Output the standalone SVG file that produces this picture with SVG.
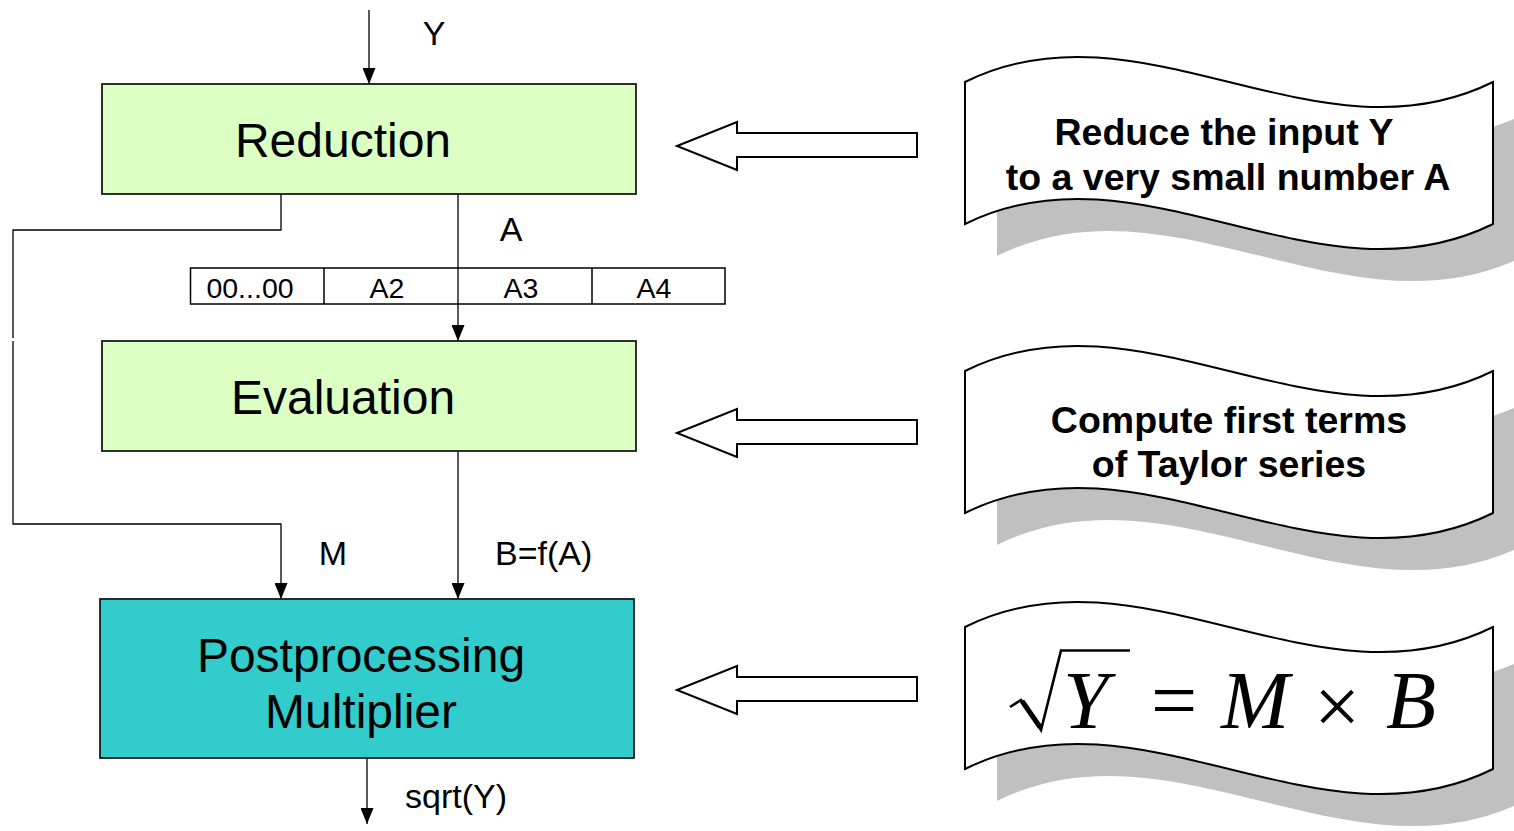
<svg xmlns="http://www.w3.org/2000/svg" width="1514" height="831" viewBox="0 0 1514 831">
  <defs>
    <marker id="head" viewBox="0 0 16 13" refX="16" refY="6.5" markerWidth="16" markerHeight="13" markerUnits="userSpaceOnUse" orient="auto">
      <path d="M0,0 L16,6.5 L0,13 Z" fill="#000"/>
    </marker>
    <!-- hollow block arrow pointing left -->
    <path id="blockArrow" d="M677,146 L737,122 L737,133 L917,133 L917,157 L737,157 L737,170 Z"/>
    <!-- wavy banner outline -->
    <path id="wave" d="M965,82 C1141,-5 1317,169 1493,82 L1493,224 C1317,311 1141,137 965,224 Z"/>
  </defs>
  <style>
    .box { stroke: #1a1a1a; stroke-width: 1.8; }
    .green { fill: #DCFFC4; }
    .teal { fill: #33CCCC; }
    .wire { fill: none; stroke: #000; stroke-width: 1.3; }
    .big { font-family: "Liberation Sans", Arial, sans-serif; font-size: 48px; fill: #000; text-anchor: middle; }
    .lbl { font-family: "Liberation Sans", Arial, sans-serif; font-size: 34px; fill: #000; }
    .cell { font-family: "Liberation Sans", Arial, sans-serif; font-size: 28.5px; fill: #000; text-anchor: middle; }
    .note { font-family: "Liberation Sans", Arial, sans-serif; font-size: 37.5px; font-weight: bold; fill: #000; text-anchor: middle; }
    .math { font-family: "Liberation Serif", "Times New Roman", serif; font-size: 82px; fill: #000; }
    .shadow { fill: #C0C0C0; }
    .banner { fill: #fff; stroke: #000; stroke-width: 2; }
    .barrow { fill: #fff; stroke: #000; stroke-width: 2; }
  </style>

  <rect width="1514" height="831" fill="#fff"/>

  <!-- connectors -->
  <g id="connectors">
    <path class="wire" d="M369,10 L369,84" marker-end="url(#head)"/>
    <path class="wire" d="M458,194 L458,341" marker-end="url(#head)"/>
    <path class="wire" d="M281,194 V230 H13 V338"/>
    <path class="wire" d="M13,341 V524 H281 V599" marker-end="url(#head)"/>
    <path class="wire" d="M458,451 V599" marker-end="url(#head)"/>
    <path class="wire" d="M367,758 V824" marker-end="url(#head)"/>
  </g>

  <!-- edge labels -->
  <g id="labels">
    <text class="lbl" x="434" y="45" text-anchor="middle">Y</text>
    <text class="lbl" x="511" y="241" text-anchor="middle">A</text>
    <text class="lbl" x="333" y="565" text-anchor="middle">M</text>
    <text class="lbl" x="495" y="565">B=f(A)</text>
    <text class="lbl" x="405" y="808">sqrt(Y)</text>
  </g>

  <g id="reduction">
    <rect class="box green" x="102" y="84" width="534" height="110"/>
    <text class="big" x="343" y="157">Reduction</text>
  </g>

  <!-- word layout of A -->
  <g id="a-word">
    <rect x="190.5" y="268" width="534.5" height="36" fill="#fff" stroke="#000" stroke-width="1.5"/>
    <path d="M324,268 V304 M592,268 V304" stroke="#000" stroke-width="1.5"/>
    <path d="M458,268 V304" stroke="#000" stroke-width="1.3"/>
    <text class="cell" x="250" y="298">00...00</text>
    <text class="cell" x="387" y="298">A2</text>
    <text class="cell" x="521" y="298">A3</text>
    <text class="cell" x="654" y="298">A4</text>
  </g>

  <g id="evaluation">
    <rect class="box green" x="102" y="341" width="534" height="110"/>
    <text class="big" x="343" y="414">Evaluation</text>
  </g>

  <g id="postprocessing">
    <rect class="box teal" x="100" y="599" width="534" height="159"/>
    <text class="big" x="361" y="672">Postprocessing</text>
    <text class="big" x="361" y="728">Multiplier</text>
  </g>

  <!-- hollow arrows from the notes to the stages -->
  <g id="arrow-reduction"><use href="#blockArrow" class="barrow"/></g>
  <g id="arrow-evaluation"><use href="#blockArrow" class="barrow" transform="translate(0,287)"/></g>
  <g id="arrow-post"><use href="#blockArrow" class="barrow" transform="translate(0,544)"/></g>

  <g id="note-reduction">
    <use href="#wave" class="shadow" transform="translate(32,32)"/>
    <use href="#wave" class="banner"/>
    <text class="note" x="1224" y="145">Reduce the input Y</text>
    <text class="note" x="1228" y="190">to a very small number A</text>
  </g>

  <g id="note-evaluation" transform="translate(0,289)">
    <use href="#wave" class="shadow" transform="translate(32,32)"/>
    <use href="#wave" class="banner"/>
    <text class="note" x="1229" y="144">Compute first terms</text>
    <text class="note" x="1229" y="188">of Taylor series</text>
  </g>

  <g id="note-post" transform="translate(0,545)">
    <use href="#wave" class="shadow" transform="translate(32,32)"/>
    <use href="#wave" class="banner"/>
  </g>

  <!-- formula: sqrt(Y) = M x B -->
  <g id="formula">
    <path d="M1010,707 L1021,700 L1041,730 L1061,650.5 L1130,650.5" fill="none" stroke="#000" stroke-width="2.6" stroke-linejoin="miter"/>
    <path d="M1022,701 L1040,727" stroke="#000" stroke-width="5"/>
    <text class="math" x="1063" y="728" font-style="italic">Y</text>
    <text class="math" x="1151" y="728">=</text>
    <text class="math" x="1221" y="728" font-style="italic">M</text>
    <text class="math" x="1314" y="734" font-size="128">×</text>
    <text class="math" x="1386" y="728" font-style="italic">B</text>
  </g>
</svg>
